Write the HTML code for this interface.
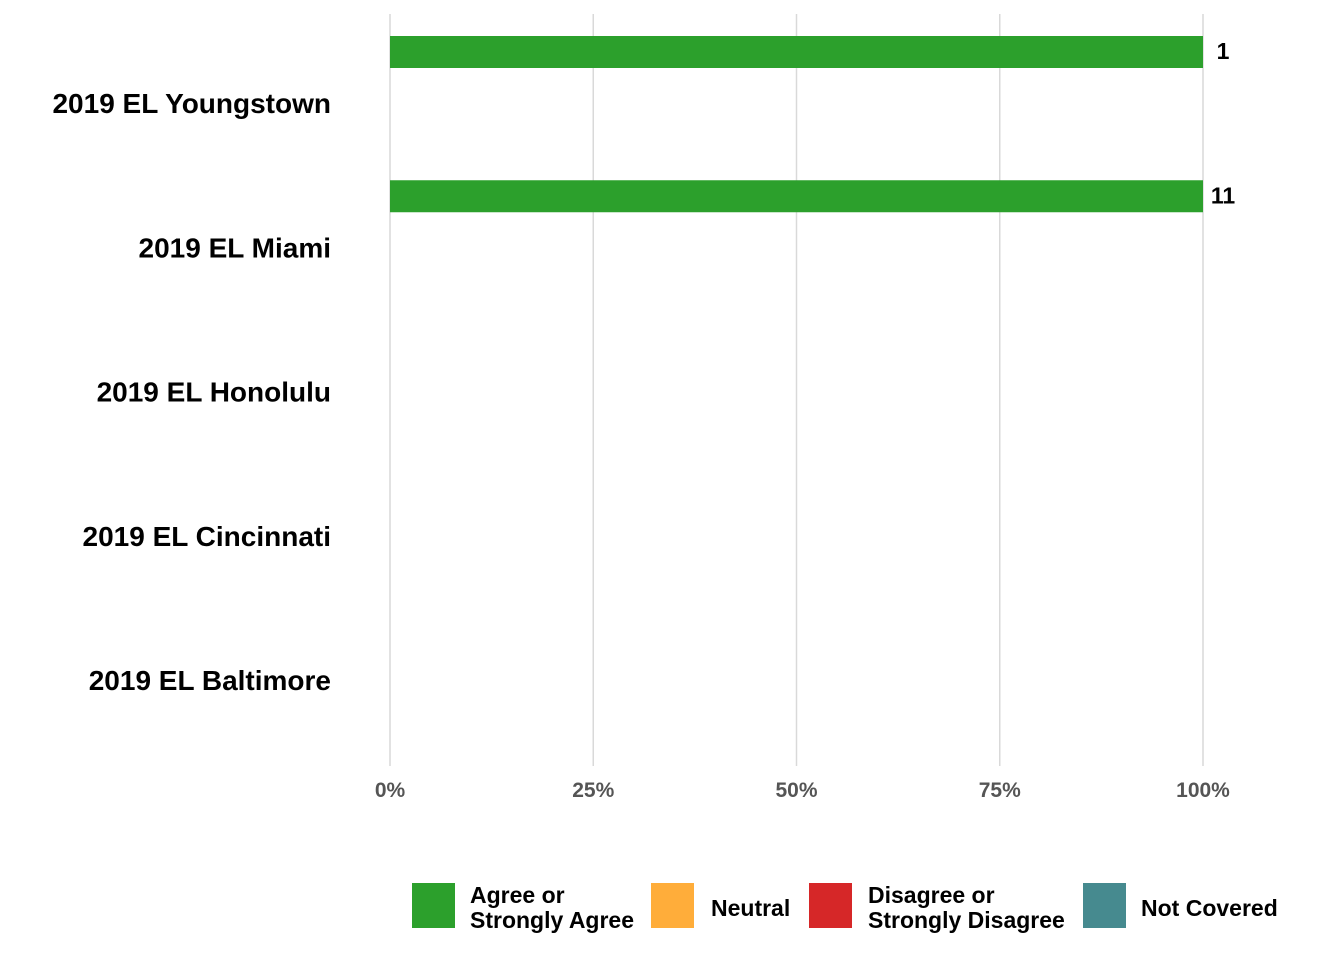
<!DOCTYPE html>
<html><head><meta charset="utf-8"><style>
body{margin:0;background:#fff;font-family:"Liberation Sans",sans-serif}
</style></head><body>
<svg width="1344" height="960" xmlns="http://www.w3.org/2000/svg" font-family="Liberation Sans, sans-serif" font-weight="bold">
<g id="grid"></g><g id="bars"></g><g id="cats"></g><g id="ticks"></g>
<g>
<rect x="412" y="883" width="43" height="45" fill="#2ca02c"/>
<text x="470" y="903" font-size="23" fill="#000">Agree or</text>
<text x="470" y="928" font-size="23" fill="#000">Strongly Agree</text>
<rect x="651" y="883" width="43" height="45" fill="#ffad3a"/>
<text x="711" y="916" font-size="23" fill="#000">Neutral</text>
<rect x="809" y="883" width="43" height="45" fill="#d62728"/>
<text x="868" y="903" font-size="23" fill="#000">Disagree or</text>
<text x="868" y="928" font-size="23" fill="#000">Strongly Disagree</text>
<rect x="1083" y="883" width="43" height="45" fill="#468a8f"/>
<text x="1141" y="916" font-size="23" fill="#000">Not Covered</text>
</g>
</svg>
<script>
const categories=["2019 EL Youngstown","2019 EL Miami","2019 EL Honolulu","2019 EL Cincinnati","2019 EL Baltimore"];
const agreeValues=[100,100,0,0,0];
const agreeCounts=["1","11","","",""];
const tickValues=[0,25,50,75,100];
const tickLabels=["0%","25%","50%","75%","100%"];
const NS="http://www.w3.org/2000/svg";
const x=v=>390+v*(1203-390)/100;
const yc=i=>103+i*144.25;
function mk(t,a,p){const e=document.createElementNS(NS,t);for(const k in a)e.setAttribute(k,a[k]);p.appendChild(e);return e;}
const grid=document.getElementById('grid'),bars=document.getElementById('bars'),cats=document.getElementById('cats'),ticks=document.getElementById('ticks');
tickValues.forEach((v,i)=>{
 const l=mk('line',{x1:x(v),x2:x(v),y1:14,y2:766,stroke:'#d9d9d9','stroke-width':1.5},grid);
 
 
 const t=mk('text',{x:x(v),y:797,'font-size':21,fill:'#555','text-anchor':'middle'},ticks);
 t.textContent=tickLabels[i];
 
 
});
categories.forEach((c,i)=>{
 const t=mk('text',{x:331,y:yc(i)+10,'font-size':28,fill:'#000','text-anchor':'end'},cats);
 t.textContent=c;
 
 
 if(agreeValues[i]>0){
  const r=mk('rect',{x:x(0),y:yc(i)-67,width:x(agreeValues[i])-x(0),height:32,fill:'#2ca02c'},bars);
  
  
  const lt=mk('text',{x:x(agreeValues[i])+20,y:yc(i)-44,'font-size':23,fill:'#000','text-anchor':'middle'},bars);
  lt.textContent=agreeCounts[i];
  
  
 }
});
</script>
</body></html>
